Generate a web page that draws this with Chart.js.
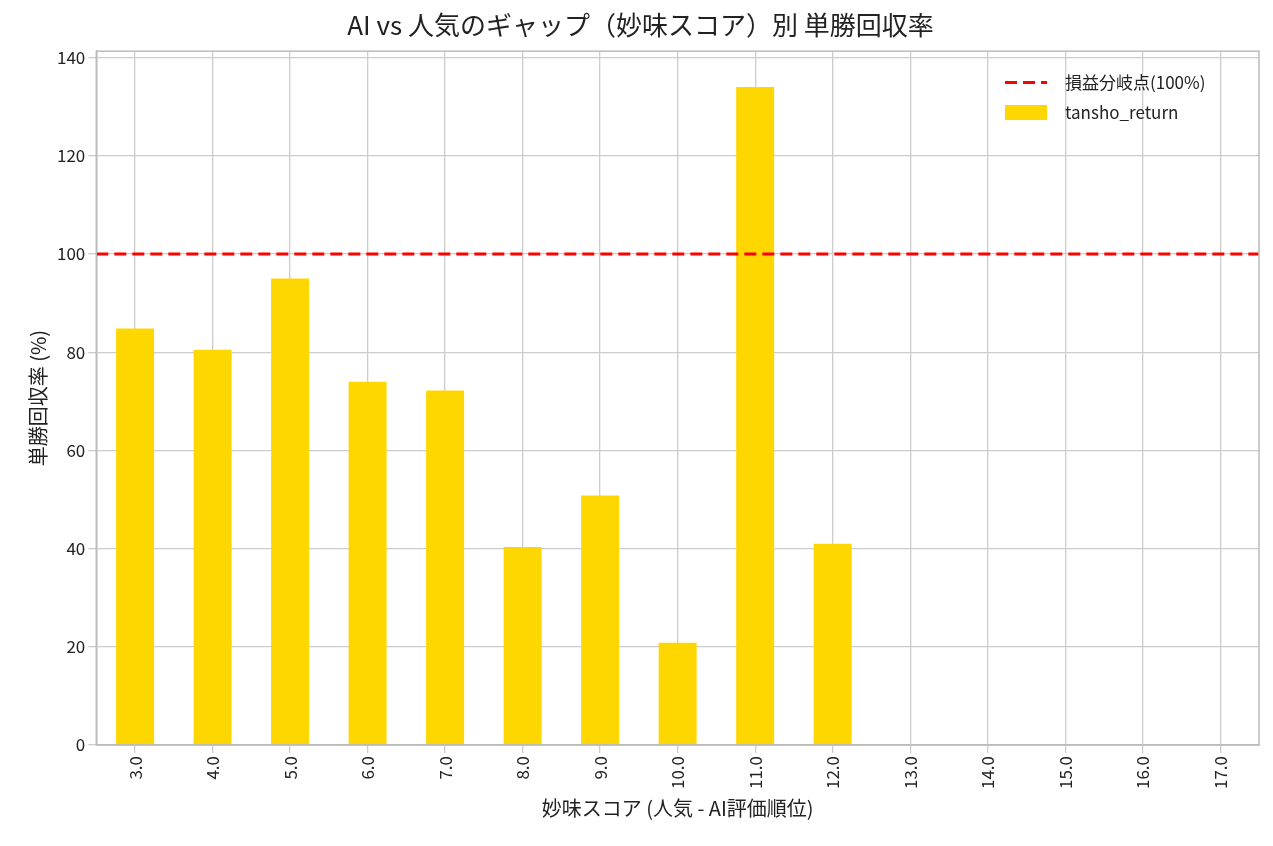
<!DOCTYPE html>
<html><head><meta charset="utf-8">
<script src="https://cdn.jsdelivr.net/npm/chart.js@4"></script>
<style>
body{margin:0;background:#fff;font-family:"Noto Sans CJK JP";}
#wrap{position:relative;width:1273px;height:846px;}
#leg{position:absolute;left:1005px;top:67px;font-size:17px;color:#222;line-height:30px;}
#leg div{display:flex;align-items:center;}
#leg span.s{display:inline-block;width:42px;margin-right:18px;}
</style></head><body>
<div id="wrap"><canvas id="c" width="1273" height="846"></canvas>
<div id="leg">
<div><span class="s" style="height:3px;background:repeating-linear-gradient(90deg,red 0 12px,transparent 12px 18px)"></span>損益分岐点(100%)</div>
<div><span class="s" style="background:#FFD700;height:15px"></span>tansho_return</div>
</div></div>
<script>
const categories=["3.0","4.0","5.0","6.0","7.0","8.0","9.0","10.0","11.0","12.0","13.0","14.0","15.0","16.0","17.0"];
const tanshoReturn=[84.8,80.5,95.0,74.0,72.2,40.3,50.8,20.8,134.0,41.0,0,0,0,0,0];
const breakEven=100;
const yTicks=[0,20,40,60,80,100,120,140];
const F="Noto Sans CJK JP";
const border={display:true,color:'#bbb',width:1.5};
new Chart(document.getElementById('c'),{
 data:{labels:categories,datasets:[
  {type:'line',label:'損益分岐点(100%)',xAxisID:'x2',data:[{x:-0.5,y:breakEven},{x:categories.length-0.5,y:breakEven}],borderColor:'red',borderDash:[12,6],borderWidth:3,pointRadius:0,order:0},
  {type:'bar',label:'tansho_return',data:tanshoReturn,backgroundColor:'#FFD700',barPercentage:0.49,categoryPercentage:1,grouped:false,order:1}
 ]},
 options:{responsive:false,animation:false,
  layout:{padding:{left:22,right:14,top:4,bottom:22}},
  plugins:{legend:{display:false},tooltip:{enabled:false},
   title:{display:true,text:'AI vs 人気のギャップ（妙味スコア）別 単勝回収率',font:{family:F,size:26,weight:'normal'},color:'#222',padding:{top:6,bottom:10}}},
  scales:{
   x:{type:'category',offset:true,grid:{color:'#ccc',lineWidth:1.3,offset:false},border,
      ticks:{font:{family:F,size:17},color:'#222',maxRotation:90,minRotation:90},
      title:{display:true,text:'妙味スコア (人気 - AI評価順位)',font:{family:F,size:20},color:'#222'}},
   x2:{type:'linear',display:false,min:-0.5,max:categories.length-0.5},
   y:{min:0,max:141.3,grid:{color:'#ccc',lineWidth:1.3},border,
      afterBuildTicks:s=>{s.ticks=yTicks.map(v=>({value:v}));},
      ticks:{font:{family:F,size:17},color:'#222'},
      title:{display:true,text:'単勝回収率 (%)',font:{family:F,size:20},color:'#222'}}
  }},
 plugins:[{id:'frame',afterDraw(ch){const a=ch.chartArea,c=ch.ctx;c.save();c.strokeStyle='#bbb';c.lineWidth=1.5;c.strokeRect(a.left,a.top,a.right-a.left,a.bottom-a.top);c.restore();}}]
});
</script></body></html>
